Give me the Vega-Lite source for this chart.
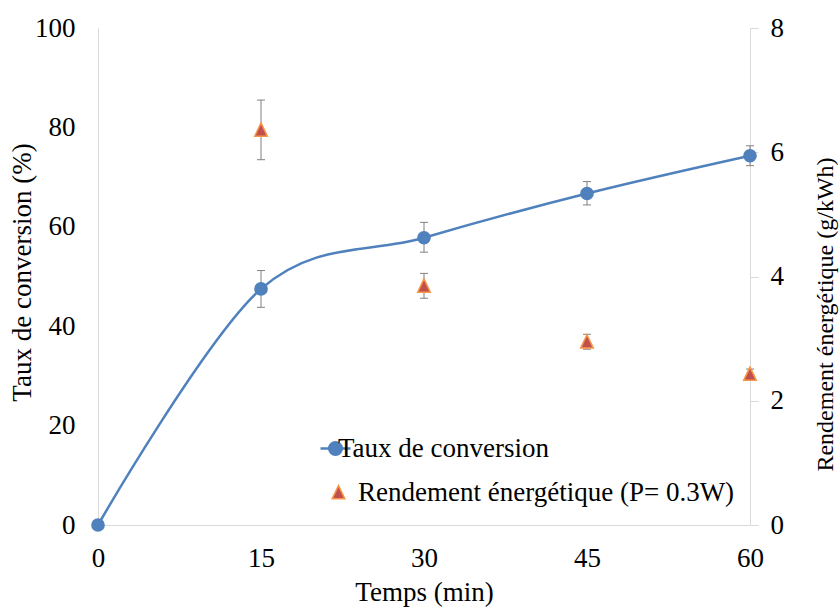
{
  "$schema": "https://vega.github.io/schema/vega-lite/v6.json",
  "width": 652,
  "height": 497,
  "autosize": {"type": "none"},
  "padding": {"left": 98, "top": 28, "right": 90, "bottom": 82},
  "background": "white",
  "config": {
    "view": {"stroke": null},
    "font": "Liberation Serif, Times New Roman, serif",
    "axis": {
      "labelFont": "Liberation Serif, Times New Roman, serif",
      "titleFont": "Liberation Serif, Times New Roman, serif",
      "labelFontSize": 27,
      "titleFontSize": 27,
      "labelColor": "black",
      "titleColor": "black",
      "titleFontWeight": "normal",
      "grid": false,
      "domainColor": "#D9D9D9",
      "tickColor": "#D9D9D9"
    },
    "legend": {
      "labelFont": "Liberation Serif, Times New Roman, serif",
      "labelFontSize": 27,
      "labelColor": "black",
      "labelLimit": 700,
      "title": null,
      "padding": 0,
      "symbolOffset": 0,
      "orient": "none"
    }
  },
  "datasets": {
    "conv": [
      {"t": 0, "v": 0, "series": "Taux de conversion"},
      {"t": 15, "v": 47.5, "lo": 43.8, "hi": 51.2, "series": "Taux de conversion"},
      {"t": 30, "v": 57.8, "lo": 54.9, "hi": 60.9, "series": "Taux de conversion"},
      {"t": 45, "v": 66.7, "lo": 64.4, "hi": 69.1, "series": "Taux de conversion"},
      {"t": 60, "v": 74.3, "lo": 72.3, "hi": 76.3, "series": "Taux de conversion"}
    ],
    "energy": [
      {"t": 15, "v": 6.36, "lo": 5.88, "hi": 6.84, "series": "Rendement énergétique (P= 0.3W)"},
      {"t": 30, "v": 3.85, "lo": 3.65, "hi": 4.05, "series": "Rendement énergétique (P= 0.3W)"},
      {"t": 45, "v": 2.95, "lo": 2.83, "hi": 3.07, "series": "Rendement énergétique (P= 0.3W)"},
      {"t": 60, "v": 2.43, "lo": 2.35, "hi": 2.51, "series": "Rendement énergétique (P= 0.3W)"}
    ]
  },
  "layer": [
    {
      "data": {"name": "conv"},
      "encoding": {
        "x": {
          "field": "t", "type": "quantitative",
          "scale": {"domain": [0, 60], "nice": false, "zero": false},
          "axis": {"values": [0, 15, 30, 45, 60], "title": "Temps (min)", "ticks": false, "tickSize": 0, "labelPadding": 41, "labelBaseline": "alphabetic", "titleX": 326, "titleY": 75, "titleBaseline": "alphabetic", "titleAlign": "center", "labelFlush": false}
        }
      },
      "layer": [
        {
          "mark": {"type": "line", "interpolate": "cardinal", "color": "#4F81BD", "strokeWidth": 2.5},
          "encoding": {
            "y": {"field": "v", "type": "quantitative", "scale": {"domain": [0, 100], "nice": false},
              "axis": {"orient": "left", "values": [0, 20, 40, 60, 80, 100], "title": "Taux de conversion (%)", "ticks": false, "tickSize": 0, "labelPadding": 23, "titleAngle": -90, "titleX": -76, "titleY": 244, "titleBaseline": "middle", "titleAlign": "center", "labelFlush": false}}
          }
        },
        {
          "mark": {"type": "rule", "color": "#808080", "strokeWidth": 1},
          "encoding": {
            "y": {"field": "lo", "type": "quantitative", "scale": {"domain": [0, 100], "nice": false},
              "axis": {"orient": "left", "values": [0, 20, 40, 60, 80, 100], "title": "Taux de conversion (%)", "ticks": false, "tickSize": 0, "labelPadding": 23, "titleAngle": -90, "titleX": -76, "titleY": 244, "titleBaseline": "middle", "titleAlign": "center", "labelFlush": false}},
            "y2": {"field": "hi"}
          }
        },
        {
          "mark": {"type": "tick", "orient": "horizontal", "size": 8, "thickness": 1, "color": "#808080", "opacity": 1},
          "encoding": {
            "y": {"field": "lo", "type": "quantitative", "scale": {"domain": [0, 100], "nice": false},
              "axis": {"orient": "left", "values": [0, 20, 40, 60, 80, 100], "title": "Taux de conversion (%)", "ticks": false, "tickSize": 0, "labelPadding": 23, "titleAngle": -90, "titleX": -76, "titleY": 244, "titleBaseline": "middle", "titleAlign": "center", "labelFlush": false}}
          }
        },
        {
          "mark": {"type": "tick", "orient": "horizontal", "size": 8, "thickness": 1, "color": "#808080", "opacity": 1},
          "encoding": {
            "y": {"field": "hi", "type": "quantitative", "scale": {"domain": [0, 100], "nice": false},
              "axis": {"orient": "left", "values": [0, 20, 40, 60, 80, 100], "title": "Taux de conversion (%)", "ticks": false, "tickSize": 0, "labelPadding": 23, "titleAngle": -90, "titleX": -76, "titleY": 244, "titleBaseline": "middle", "titleAlign": "center", "labelFlush": false}}
          }
        },
        {
          "mark": {"type": "point", "filled": true, "shape": "circle", "size": 125, "opacity": 1, "stroke": "#4F81BD", "strokeWidth": 2.5},
          "encoding": {
            "y": {
              "field": "v", "type": "quantitative", "scale": {"domain": [0, 100], "nice": false},
              "axis": {"orient": "left", "values": [0, 20, 40, 60, 80, 100], "title": "Taux de conversion (%)", "ticks": false, "tickSize": 0, "labelPadding": 23, "titleAngle": -90, "titleX": -76, "titleY": 244, "titleBaseline": "middle", "titleAlign": "center", "labelFlush": false}
            },
            "color": {
              "field": "series", "type": "nominal",
              "scale": {"domain": ["Taux de conversion"], "range": ["#4F81BD"]},
              "legend": {
                "orient": "none", "legendX": 221, "legendY": 404, "title": null,
                "symbolType": "M-1,0H1M0.42,0A0.42,0.42,0,1,1,-0.42,0A0.42,0.42,0,1,1,0.42,0Z",
                "symbolSize": 900, "symbolOffset": 0, "labelOffset": -14, "padding": 0,
                "symbolOpacity": 1, "symbolStrokeWidth": 2.5, "symbolStrokeColor": "#4F81BD", "symbolFillColor": "#4F81BD"
              }
            }
          }
        }
      ]
    },
    {
      "data": {"name": "energy"},
      "encoding": {
        "x": {
          "field": "t", "type": "quantitative",
          "scale": {"domain": [0, 60], "nice": false, "zero": false},
          "axis": {"values": [0, 15, 30, 45, 60], "title": "Temps (min)", "ticks": false, "tickSize": 0, "labelPadding": 41, "labelBaseline": "alphabetic", "titleX": 326, "titleY": 75, "titleBaseline": "alphabetic", "titleAlign": "center", "labelFlush": false}
        }
      },
      "layer": [
        {
          "mark": {"type": "rule", "color": "#808080", "strokeWidth": 1},
          "encoding": {
            "y": {"field": "lo", "type": "quantitative", "scale": {"domain": [0, 8], "nice": false},
              "axis": {"orient": "right", "values": [0, 2, 4, 6, 8], "title": "Rendement énergétique (g/kWh)", "titleFontSize": 24, "ticks": true, "tickSize": 8, "labelPadding": 12, "titleAngle": -90, "titleX": 75, "titleY": 286, "titleBaseline": "middle", "titleAlign": "center", "labelFlush": false}},
            "y2": {"field": "hi"}
          }
        },
        {
          "mark": {"type": "tick", "orient": "horizontal", "size": 8, "thickness": 1, "color": "#808080", "opacity": 1},
          "encoding": {
            "y": {"field": "lo", "type": "quantitative", "scale": {"domain": [0, 8], "nice": false},
              "axis": {"orient": "right", "values": [0, 2, 4, 6, 8], "title": "Rendement énergétique (g/kWh)", "titleFontSize": 24, "ticks": true, "tickSize": 8, "labelPadding": 12, "titleAngle": -90, "titleX": 75, "titleY": 286, "titleBaseline": "middle", "titleAlign": "center", "labelFlush": false}}
          }
        },
        {
          "mark": {"type": "tick", "orient": "horizontal", "size": 8, "thickness": 1, "color": "#808080", "opacity": 1},
          "encoding": {
            "y": {"field": "hi", "type": "quantitative", "scale": {"domain": [0, 8], "nice": false},
              "axis": {"orient": "right", "values": [0, 2, 4, 6, 8], "title": "Rendement énergétique (g/kWh)", "titleFontSize": 24, "ticks": true, "tickSize": 8, "labelPadding": 12, "titleAngle": -90, "titleX": 75, "titleY": 286, "titleBaseline": "middle", "titleAlign": "center", "labelFlush": false}}
          }
        },
        {
          "mark": {"type": "point", "filled": true, "shape": "M0,-1.1L1,1L-1,1Z", "size": 160, "opacity": 1, "stroke": "#F79646", "strokeWidth": 1.5},
          "encoding": {
            "y": {
              "field": "v", "type": "quantitative", "scale": {"domain": [0, 8], "nice": false},
              "axis": {"orient": "right", "values": [0, 2, 4, 6, 8], "title": "Rendement énergétique (g/kWh)", "titleFontSize": 24, "ticks": true, "tickSize": 8, "labelPadding": 12, "titleAngle": -90, "titleX": 75, "titleY": 286, "titleBaseline": "middle", "titleAlign": "center", "labelFlush": false}
            },
            "color": {
              "field": "series", "type": "nominal",
              "scale": {"domain": ["Rendement énergétique (P= 0.3W)"], "range": ["#C0504D"]},
              "legend": {
                "orient": "none", "legendX": 227, "legendY": 451, "title": null,
                "symbolType": "M0,-1.1L1,1L-1,1Z",
                "symbolSize": 160, "symbolOffset": 0, "labelOffset": 6, "padding": 0,
                "symbolOpacity": 1, "symbolStrokeWidth": 1.5, "symbolStrokeColor": "#F79646", "symbolFillColor": "#C0504D"
              }
            }
          }
        }
      ]
    }
  ],
  "resolve": {"scale": {"y": "independent", "color": "independent"}, "legend": {"color": "independent"}}
}
